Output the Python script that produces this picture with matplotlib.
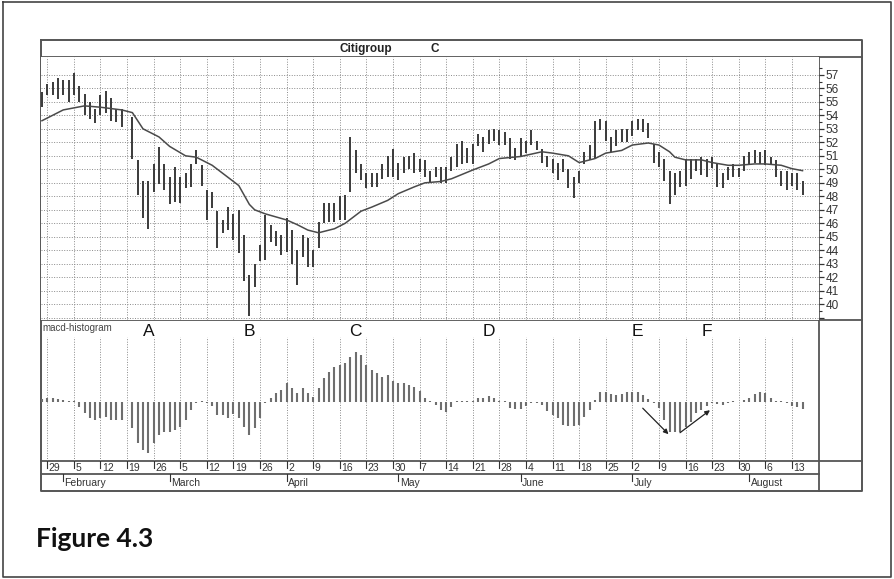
import numpy as np
import pandas as pd
import matplotlib
matplotlib.use("Agg")
import matplotlib.pyplot as plt

# --- data (Citigroup, daily bars, 2001) ---
first_day = "2001-01-26"
last_day = "2001-08-15"

highs = [55.7, 56.3, 56.5, 56.8, 56.6, 56.6, 57.1, 56.2, 55.6, 55.0,
         54.5, 55.5, 55.8, 55.3, 54.5, 54.5, None, 53.9, 50.7, 49.1,
         49.1, 50.4, 51.65, 50.4, 49.4, 50.2, 49.4, 49.7, 50.4, 51.4,
         50.3, 48.5, 48.35, 46.9, 46.25, 47.2, 46.7, 47.0, 45.1, 42.2,
         43.0, 44.4, 46.6, 45.9, 45.4, 45.1, 46.4, 45.5, 44.0, 45.1,
         44.9, 44.0, 46.1, 47.5, 47.5, 47.5, 48.0, 48.1, 52.4, 51.4,
         50.4, 49.7, 49.7, 49.7, 50.4, 51.0, 51.5, 50.5, 50.9, 51.0,
         51.2, 50.8, 50.7, 49.9, 50.2, 50.2, 50.2, 50.9, 51.9, 52.1,
         51.6, 51.9, 52.6, 52.4, 52.9, 53.0, 52.9, 52.8, 52.3, 51.6,
         52.3, 52.1, 52.9, 52.1, 51.5, 51.0, 50.8, 50.5, 50.8, 50.0,
         49.4, 49.9, 51.3, 51.8, 53.6, 53.7, 53.6, 52.4, 52.9, 53.0,
         53.0, 53.6, 53.7, 53.7, 53.4, 51.9, 51.3, 50.8, 49.9, 49.7,
         49.9, 50.8, 50.8, 50.8, 50.9, 50.8, 50.9, 50.5, 49.7, 50.2,
         50.4, 50.1, 51.0, 51.3, 51.4, 51.3, 51.4, 50.9, 50.7, 49.9,
         49.9, 49.7, 49.7, 49.1]

lows = [54.6, 55.5, 55.5, 55.2, 55.5, 55.0, 55.5, 55.0, 54.0, 53.7,
        53.4, 54.0, 54.2, 53.6, 53.5, 53.1, None, 50.8, 48.1, 46.4,
        45.6, 48.35, 48.9, 48.5, 47.4, 47.6, 47.5, 48.6, 48.7, 50.4,
        48.8, 46.25, 47.1, 44.15, 45.3, 45.5, 44.8, 43.8, 41.7, 39.1,
        41.3, 43.2, 43.3, 44.6, 44.3, 43.65, 43.9, 43.0, 41.4, 43.5,
        42.8, 42.8, 44.15, 46.0, 46.1, 46.1, 46.25, 46.25, 48.35, 49.7,
        49.2, 48.6, 48.7, 48.7, 49.3, 49.4, 49.4, 49.2, 49.7, 50.0,
        49.7, 49.8, 49.4, 49.0, 49.4, 49.0, 49.0, 49.9, 50.2, 50.4,
        50.5, 50.4, 51.7, 51.3, 51.9, 52.1, 51.8, 51.8, 50.8, 50.7,
        51.0, 51.2, 51.8, 51.4, 50.5, 50.2, 49.7, 49.2, 49.8, 48.6,
        47.85, 48.96, 50.4, 50.7, 50.8, 52.9, 52.1, 51.3, 51.7, 52.0,
        52.0, 52.5, 52.9, 52.8, 52.3, 50.5, 50.2, 49.1, 47.4, 48.1,
        48.7, 48.8, 49.3, 49.9, 49.6, 49.4, 50.1, 48.7, 48.6, 49.2,
        49.4, 49.4, 49.9, 50.4, 50.5, 50.4, 50.3, 50.3, 49.4, 48.8,
        48.5, 48.8, 48.5, 48.1]

# moving average, sampled along the drawn curve
ma_dates = ["2001-01-26", "2001-02-01", "2001-02-07", "2001-02-12", "2001-02-16",
            "2001-02-20", "2001-02-22", "2001-02-27", "2001-03-01", "2001-03-06",
            "2001-03-08", "2001-03-13", "2001-03-15", "2001-03-20", "2001-03-22",
            "2001-03-23", "2001-03-27", "2001-04-02", "2001-04-04", "2001-04-06",
            "2001-04-10", "2001-04-13", "2001-04-17", "2001-04-20", "2001-04-24",
            "2001-04-27", "2001-05-01", "2001-05-04", "2001-05-08", "2001-05-11",
            "2001-05-15", "2001-05-21", "2001-05-24", "2001-05-28", "2001-06-01",
            "2001-06-07", "2001-06-11", "2001-06-14", "2001-06-18", "2001-06-21",
            "2001-06-25", "2001-06-28", "2001-07-02", "2001-07-05", "2001-07-09",
            "2001-07-11", "2001-07-12", "2001-07-16", "2001-07-19", "2001-07-23",
            "2001-07-26", "2001-07-30", "2001-08-02", "2001-08-06", "2001-08-09",
            "2001-08-13", "2001-08-15"]
ma_values = [53.6, 54.4, 54.7, 54.6, 54.4, 54.2, 53.0, 52.4, 51.7, 51.0,
             50.9, 50.3, 49.7, 48.8, 47.4, 47.0, 46.7, 46.25, 45.9, 45.5,
             45.3, 45.6, 46.0, 46.9, 47.2, 47.7, 48.2, 48.7, 49.0, 49.1,
             49.3, 49.95, 50.4, 50.8, 50.95, 51.3, 51.2, 51.0, 50.5, 50.8,
             51.2, 51.4, 51.8, 51.95, 51.8, 51.3, 50.9, 50.7, 50.7, 50.5,
             50.3, 50.3, 50.4, 50.4, 50.3, 50.05, 49.9]

macd_hist = [0.05, 0.08, 0.08, 0.05, 0.03, 0.01, 0.01, -0.10, -0.23, -0.33,
             -0.37, -0.33, -0.30, -0.37, -0.37, -0.37, None, -0.53, -0.83, -0.97,
             -1.03, -0.83, -0.67, -0.60, -0.60, -0.57, -0.50, -0.37, -0.17, -0.03,
             0.02, -0.02, -0.08, -0.27, -0.27, -0.32, -0.25, -0.33, -0.50, -0.67,
             -0.53, -0.33, -0.02, 0.07, 0.17, 0.23, 0.37, 0.28, 0.17, 0.27,
             0.17, 0.10, 0.27, 0.47, 0.60, 0.70, 0.73, 0.77, 0.90, 0.99,
             0.93, 0.73, 0.63, 0.57, 0.50, 0.53, 0.41, 0.37, 0.37, 0.33,
             0.30, 0.21, 0.07, 0.01, -0.07, -0.17, -0.20, -0.10, 0.01, 0.01,
             0.01, 0.01, 0.08, 0.08, 0.12, 0.07, 0.02, 0.01, -0.12, -0.15,
             -0.15, -0.08, -0.03, -0.03, -0.07, -0.19, -0.27, -0.33, -0.47, -0.48,
             -0.48, -0.47, -0.30, -0.17, 0.03, 0.20, 0.20, 0.15, 0.13, 0.15,
             0.19, 0.20, 0.19, 0.13, 0.05, -0.03, -0.13, -0.37, -0.60, -0.60,
             -0.60, -0.50, -0.40, -0.23, -0.17, -0.08, -0.03, -0.05, -0.07, -0.02,
             0.01, -0.01, 0.03, 0.07, 0.15, 0.20, 0.17, 0.08, 0.01, 0.01,
             -0.02, -0.08, -0.10, -0.15]

price_ticks = list(range(39, 58))
month_names = ["February", "March", "April", "May", "June", "July", "August"]
month_starts = ["2001-02-01", "2001-03-01", "2001-04-02", "2001-05-01",
                "2001-06-01", "2001-07-02", "2001-08-01"]
point_names = ["A", "B", "C", "D", "E", "F"]
point_dates = ["2001-02-23", "2001-03-22", "2001-04-19", "2001-05-24",
               "2001-07-03", "2001-07-20"]

# --- layout helpers (pixels of the 894x579 picture) ---
W, H = 894, 579
def box(x0, y0, x1, y1):
    return [x0 / W, 1 - y1 / H, (x1 - x0) / W, (y1 - y0) / H]

narrow = ["Liberation Sans Narrow", "Liberation Sans", "DejaVu Sans"]
frame_c = "#555555"
grid_c = "#8a8a8a"
dot = (0, (1, 1.6))

days = pd.bdate_range(first_day, last_day)
x = np.arange(len(days))
hi = np.array(highs, dtype=float)
lo = np.array(lows, dtype=float)
hist = np.array(macd_hist, dtype=float)
ma_x = days.get_indexer(pd.to_datetime(ma_dates))
mondays = x[days.weekday == 0]
monday_labels = [str(d.day) for d in days[days.weekday == 0]]
month_x = days.get_indexer(pd.to_datetime(month_starts))
point_x = days.get_indexer(pd.to_datetime(point_dates))
xlim = (-0.18, 146.1)

fig = plt.figure(figsize=(W / 100, H / 100), dpi=100)

# background: page border, chart frame, separators, title, caption
bg = fig.add_axes([0, 0, 1, 1])
bg.set_xlim(0, W)
bg.set_ylim(H, 0)
bg.axis("off")
bg.plot([3, 891, 891, 3, 3], [2, 2, 577, 577, 2], color="#444444", lw=1.2)
bg.plot([41, 862, 862, 41, 41], [40, 40, 490.7, 490.7, 40], color=frame_c, lw=1.4)
bg.plot([41, 862], [57, 57], color=frame_c, lw=1.3)
bg.plot([41, 862], [320, 320], color=frame_c, lw=1.3)
bg.plot([41, 862], [460.7, 460.7], color=frame_c, lw=1.3)
bg.plot([41, 819], [474, 474], color=frame_c, lw=1.3)
bg.plot([819, 819], [57, 490.7], color=frame_c, lw=1.3)
bg.text(366, 49, "Citigroup", ha="center", va="center", fontsize=8.5,
        fontweight="bold", family=["Liberation Sans", "DejaVu Sans"], color="#222222")
bg.text(435, 48.5, "C", ha="center", va="center", fontsize=8.5,
        fontweight="bold", family=["Liberation Sans", "DejaVu Sans"], color="#222222")
bg.text(36, 547, "Figure 4.3", ha="left", va="baseline", fontsize=19,
        fontweight="bold", family=["Lato", "DejaVu Sans"], color="#111111")

# price panel
ax = fig.add_axes(box(41, 57, 819, 320))
ax.set_xlim(*xlim)
ax.set_ylim(38.84, 58.32)
ax.vlines(x, lo, hi, color="#3a3a3a", lw=1.4, zorder=3)
ax.plot(ma_x, ma_values, color="#4a4a4a", lw=1.1, zorder=4)
ax.set_xticks(mondays)
ax.set_yticks(price_ticks)
ax.set_yticklabels([str(p) if p >= 40 else "" for p in price_ticks])
ax.set_yticks(np.arange(39.5, 57.6, 1), minor=True)
ax.yaxis.tick_right()
ax.tick_params(axis="x", length=0, labelbottom=False)
ax.tick_params(axis="y", which="major", length=3.5, width=0.9, pad=1.5,
               colors="#333333", labelsize=8.5)
ax.tick_params(axis="y", which="minor", length=1.8, width=0.8, color="#333333")
for lab in ax.get_yticklabels():
    lab.set_family(narrow)
ax.grid(True, color=grid_c, ls=dot, lw=0.7)
for s in ax.spines.values():
    s.set_visible(False)

# macd histogram panel
am = fig.add_axes(box(41, 320, 819, 460.7))
am.set_xlim(*xlim)
am.set_ylim(-1.18, 1.634)
for mx in mondays:
    am.axvline(mx, ymin=0, ymax=0.88, color=grid_c, ls=dot, lw=0.7, zorder=1)
am.vlines(x, 0, hist, color="#6e6e6e", lw=1.5, zorder=3)
for name, px in zip(point_names, point_x):
    am.text(px, 0.92, name, transform=am.get_xaxis_transform(), ha="center",
            va="center", fontsize=12.5, family=["Liberation Sans", "DejaVu Sans"],
            color="#111111")
am.text(0.002, 0.945, "macd-histogram", transform=am.transAxes, ha="left",
        va="center", fontsize=7, family=narrow, color="#444444")
arrow = dict(arrowstyle="-|>", lw=0.9, color="#222222", mutation_scale=7,
             shrinkA=0, shrinkB=0)
am.annotate("", xy=(117.8, -0.65), xytext=(112.96, -0.13), arrowprops=arrow)
am.annotate("", xy=(125.6, -0.17), xytext=(119.97, -0.62), arrowprops=arrow)
am.axis("off")

# weekly date row
ad = fig.add_axes(box(41, 460.7, 819, 474))
ad.set_xlim(*xlim)
ad.set_ylim(0, 1)
ad.axis("off")
for mx, lab in zip(mondays, monday_labels):
    ad.plot([mx, mx], [1, 0.45], color="#333333", lw=0.8)
    ad.text(mx + 0.25, 0.42, lab, ha="left", va="center", fontsize=7.5,
            family=narrow, color="#333333")

# month row
amo = fig.add_axes(box(41, 474, 819, 490.7))
amo.set_xlim(*xlim)
amo.set_ylim(0, 1)
amo.axis("off")
for mx, name in zip(month_x, month_names):
    amo.plot([mx, mx], [1, 0.6], color="#333333", lw=0.8)
    amo.text(mx + 0.25, 0.45, name, ha="left", va="center", fontsize=7.5,
             family=narrow, color="#333333")

fig.savefig("out.png", dpi=100)
